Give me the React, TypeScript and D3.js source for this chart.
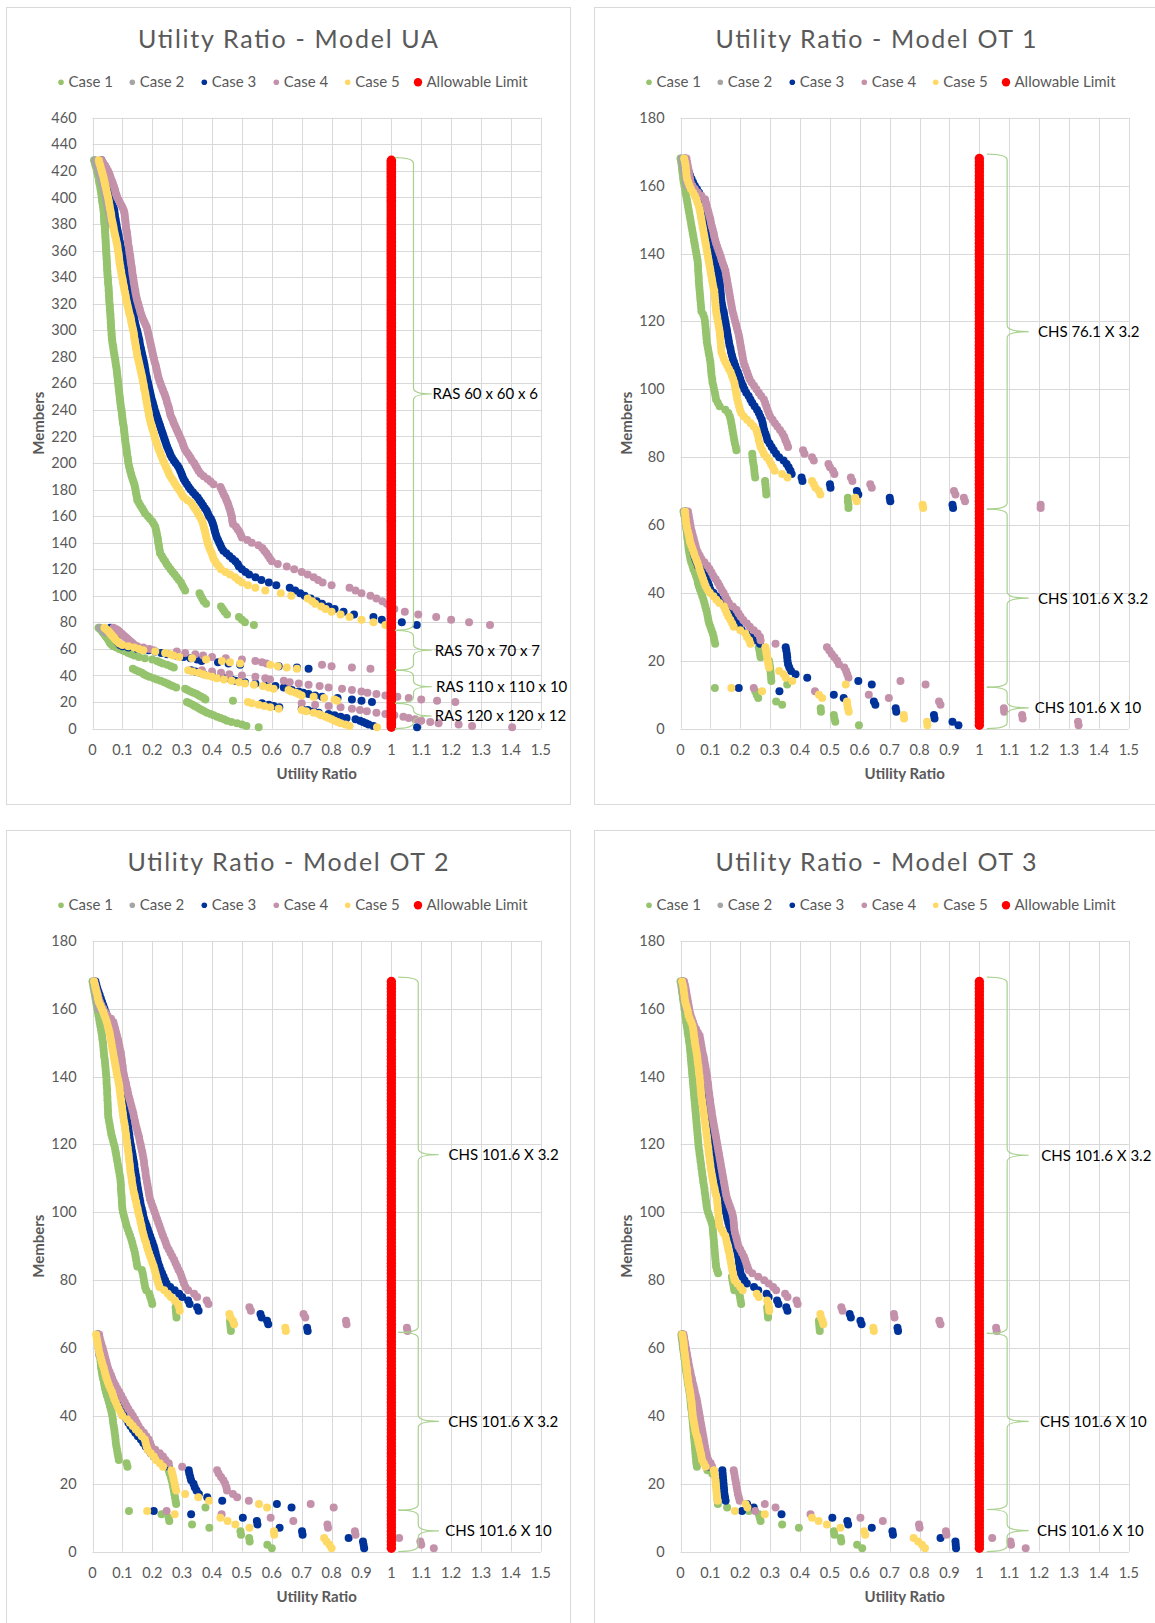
import React from 'react';
import * as d3 from 'd3';

// ---------------- categories / ticks ----------------
const CASE_NAMES = ['Case 1', 'Case 2', 'Case 3', 'Case 4', 'Case 5'];
const LIMIT_NAME = 'Allowable Limit';
const LIMIT_RATIO = 1;
const X_TICKS = [0, 0.1, 0.2, 0.3, 0.4, 0.5, 0.6, 0.7, 0.8, 0.9, 1, 1.1, 1.2, 1.3, 1.4, 1.5];
const Y_TICKS_UA = [0, 20, 40, 60, 80, 100, 120, 140, 160, 180, 200, 220, 240, 260, 280, 300, 320, 340, 360, 380, 400, 420, 440, 460];
const Y_TICKS_OT = [0, 20, 40, 60, 80, 100, 120, 140, 160, 180];
const TITLES = ['Utility Ratio - Model UA', 'Utility Ratio - Model OT 1', 'Utility Ratio - Model OT 2', 'Utility Ratio - Model OT 3'];
const X_TITLE = 'Utility Ratio';
const Y_TITLE = 'Members';
const UA_MEMBERS = 428;
const OT_MEMBERS = 168;

// ---------------- Model UA (members 428..78 every 2nd member, then 76..1) ----------------
const UA_CASE1_TOP = [
.005,.008,.010,.013,.015,.017,.019,.021,.022,.024,
.026,.027,.029,.030,.031,.032,.033,.035,.036,.037,
.038,.038,.039,.039,.040,.041,.042,.042,.043,.043,
.044,.044,.045,.045,.046,.046,.047,.047,.048,.048,
.049,.049,.050,.050,.051,.052,.052,.053,.054,.054,
.055,.055,.056,.056,.057,.058,.058,.059,.060,.060,
.061,.061,.062,.062,.063,.064,.064,.065,.066,.067,
.069,.070,.071,.073,.074,.076,.077,.078,.080,.081,
.082,.083,.084,.085,.086,.087,.088,.089,.090,.091,
.092,.093,.094,.095,.097,.098,.099,.100,.101,.102,
.104,.105,.106,.107,.108,.109,.110,.111,.113,.114,
.115,.116,.118,.119,.120,.122,.124,.126,.129,.131,
.134,.137,.140,.142,.144,.145,.147,.149,.150,.155,
.160,.166,.171,.176,.185,.192,.200,.205,.210,.212,
.214,.216,.218,.219,.220,.222,.223,.225,.226,.232,
.237,.243,.248,.254,.261,.268,.275,.282,.289,.296,
.300,.305,.310,.358,.362,.367,.372,.380,.430,.436,
.442,.450,.490,.500,.510,.540];
const UA_CASE1_LOW = [
.020,.025,.030,.033,.036,.040,.043,.046,.050,.053,
.055,.058,.060,.065,.070,.080,.090,.100,.110,.120,
.130,.140,.155,.175,.200,.216,.225,.235,.250,.262,
.272,.135,.145,.155,.165,.172,.180,.190,.205,.215,
.228,.240,.250,.258,.268,.280,.310,.318,.328,.338,
.348,.356,.364,.372,.378,.470,.316,.325,.335,.342,
.350,.358,.366,.374,.383,.395,.405,.417,.428,.440,
.450,.465,.484,.500,.515,.556];
const UA_CASE2_TOP = [
.008,.011,.014,.017,.020,.023,.026,.028,.031,.033,
.036,.038,.040,.042,.044,.046,.048,.050,.052,.054,
.056,.058,.059,.061,.063];
const UA_CASE2_LOW = [.025,.030,.035,.040,.045];
const UA_CASE3_TOP = [
.030,.032,.034,.036,.038,.040,.042,.044,.046,.048,
.050,.051,.052,.053,.055,.059,.063,.067,.071,.073,
.074,.075,.077,.078,.080,.081,.083,.085,.087,.088,
.090,.092,.094,.096,.099,.100,.102,.103,.104,.106,
.107,.108,.110,.111,.113,.115,.116,.118,.120,.121,
.123,.124,.126,.128,.130,.132,.133,.135,.137,.139,
.140,.142,.144,.146,.149,.151,.153,.155,.157,.158,
.160,.162,.164,.166,.168,.170,.172,.174,.175,.177,
.178,.180,.182,.184,.186,.188,.190,.192,.194,.196,
.198,.201,.203,.206,.208,.211,.214,.217,.220,.223,
.226,.229,.232,.235,.238,.241,.244,.247,.250,.254,
.258,.261,.266,.272,.278,.285,.290,.294,.298,.301,
.305,.310,.316,.322,.328,.336,.344,.352,.358,.364,
.370,.376,.382,.386,.390,.396,.400,.403,.406,.408,
.410,.413,.416,.420,.424,.428,.432,.438,.448,.458,
.468,.478,.486,.490,.500,.512,.524,.545,.565,.590,
.615,.660,.678,.695,.710,.730,.750,.768,.790,.810,
.840,.875,.940,.968,1.035,1.085];
const UA_CASE3_LOW = [
.060,.063,.066,.068,.070,.072,.074,.076,.078,.080,
.082,.085,.088,.092,.100,.120,.150,.188,.210,.230,
.250,.280,.305,.328,.350,.365,.420,.455,.494,.623,
.684,.723,.330,.344,.360,.372,.400,.430,.444,.465,
.478,.510,.545,.580,.612,.640,.655,.667,.690,.705,
.723,.745,.768,.820,.868,.900,.935,.567,.590,.606,
.625,.700,.720,.740,.757,.790,.810,.830,.850,.880,
.895,.905,.915,.924,.940,1.086];
const UA_CASE4_TOP = [
.030,.036,.042,.047,.052,.056,.059,.062,.066,.069,
.072,.075,.077,.080,.083,.088,.092,.097,.101,.105,
.107,.108,.109,.110,.111,.112,.113,.115,.116,.117,
.118,.119,.120,.122,.123,.124,.126,.127,.128,.129,
.131,.132,.133,.134,.136,.137,.138,.140,.141,.143,
.144,.146,.148,.150,.153,.155,.158,.160,.163,.166,
.170,.174,.178,.182,.184,.186,.188,.190,.192,.194,
.196,.198,.200,.202,.204,.206,.208,.211,.213,.215,
.217,.219,.221,.224,.227,.230,.234,.237,.241,.244,
.247,.249,.252,.255,.257,.259,.261,.265,.269,.272,
.276,.280,.284,.288,.292,.296,.300,.303,.306,.310,
.316,.322,.328,.333,.340,.345,.350,.355,.362,.372,
.385,.395,.405,.428,.432,.436,.440,.445,.448,.452,
.455,.458,.461,.463,.466,.467,.468,.470,.480,.486,
.492,.496,.500,.518,.533,.555,.568,.575,.582,.588,
.594,.600,.620,.650,.675,.700,.720,.740,.755,.770,
.800,.860,.880,.900,.930,.950,.970,.985,.995,1.010,
1.045,1.090,1.150,1.200,1.260,1.330];
const UA_CASE4_LOW = [
.070,.078,.085,.090,.095,.100,.105,.110,.115,.120,
.125,.130,.135,.140,.150,.170,.190,.204,.282,.310,
.344,.370,.400,.446,.500,.545,.567,.582,.768,.800,
.868,.930,.366,.400,.430,.458,.500,.545,.578,.594,
.640,.660,.690,.723,.760,.790,.835,.868,.900,.920,
.950,.980,1.020,1.058,1.100,1.153,1.214,.700,.745,.790,
.830,.868,.895,.918,.950,.980,1.010,1.040,1.058,1.080,
1.100,1.130,1.158,1.225,1.270,1.404];
const UA_CASE5_TOP = [
.021,.023,.026,.028,.031,.033,.036,.038,.040,.042,
.044,.046,.048,.050,.052,.054,.055,.057,.058,.060,
.062,.063,.064,.066,.068,.070,.071,.073,.075,.077,
.079,.081,.083,.084,.085,.087,.088,.089,.090,.091,
.093,.094,.096,.097,.099,.101,.102,.104,.106,.107,
.109,.111,.112,.114,.116,.118,.120,.122,.124,.127,
.129,.130,.132,.134,.136,.138,.139,.140,.142,.143,
.145,.146,.148,.149,.151,.153,.155,.157,.159,.161,
.163,.165,.167,.168,.170,.172,.173,.175,.177,.178,
.180,.181,.183,.184,.186,.188,.189,.191,.193,.195,
.198,.200,.203,.206,.208,.210,.213,.216,.219,.222,
.226,.229,.233,.236,.240,.244,.248,.252,.256,.260,
.266,.272,.277,.283,.289,.295,.300,.306,.318,.330,
.336,.342,.348,.353,.358,.363,.367,.370,.372,.375,
.377,.379,.381,.383,.385,.388,.391,.395,.399,.402,
.405,.410,.416,.423,.430,.445,.460,.477,.488,.500,
.520,.545,.578,.630,.665,.720,.735,.745,.765,.780,
.800,.830,.860,.900,.940,.980];
const UA_CASE5_LOW = [
.040,.045,.050,.055,.058,.062,.066,.070,.074,.078,
.082,.086,.090,.100,.120,.140,.155,.170,.210,.243,
.260,.270,.290,.333,.380,.433,.460,.494,.595,.620,
.650,.684,.320,.335,.355,.370,.383,.400,.416,.440,
.466,.490,.510,.540,.570,.590,.606,.656,.665,.680,
.690,.700,.740,.775,.810,.818,.520,.533,.556,.575,
.595,.623,.700,.715,.740,.757,.765,.780,.790,.800,
.810,.820,.830,.846,.860,.952];

// ---------------- Model OT 1 (members 168..65, 64..13, 12..1) ----------------
const OT1_CASE1_TOP = [
.000,.002,.004,.005,.006,.008,.009,.011,.013,.015,
.017,.019,.021,.023,.025,.027,.029,.031,.033,.035,
.037,.039,.041,.043,.045,.047,.049,.051,.053,.055,
.057,.058,.059,.059,.060,.061,.061,.062,.063,.064,
.065,.066,.067,.068,.069,.070,.076,.080,.082,.083,
.084,.085,.086,.087,.088,.090,.092,.094,.096,.098,
.100,.101,.102,.103,.104,.106,.107,.110,.112,.115,
.117,.119,.125,.131,.150,.160,.165,.168,.170,.172,
.174,.176,.178,.180,.182,.185,.187,.240,.241,.242,
.244,.246,.247,.248,.250,.283,.284,.285,.286,.287,
.560,.560,.562,.562];
const OT1_CASE1_MID = [
.010,.012,.015,.016,.018,.019,.021,.022,.023,.025,
.026,.027,.029,.031,.033,.036,.040,.043,.048,.052,
.056,.058,.061,.065,.069,.073,.077,.080,.083,.086,
.089,.091,.093,.096,.100,.104,.108,.111,.113,.116,
.262,.264,.266,.268,.296,.298,.300,.301,.302,.303,
.304,.357];
const OT1_CASE1_BOT = [.115,.250,.255,.260,.320,.340,.469,.470,.513,.515,.518,.597];
const OT1_CASE2_TOP = [.004,.006,.008,.010,.012,.014,.016,.018,.020];
const OT1_CASE2_MID = [.012,.014,.016,.018,.020,.022,.024];
const OT1_CASE3_TOP = [
.015,.018,.020,.024,.028,.032,.037,.042,.048,.055,
.062,.067,.071,.074,.077,.080,.083,.086,.089,.092,
.095,.098,.101,.104,.107,.109,.111,.113,.115,.117,
.119,.121,.123,.125,.127,.129,.131,.132,.133,.134,
.135,.136,.137,.139,.141,.144,.146,.148,.150,.152,
.154,.156,.158,.160,.162,.164,.167,.169,.172,.175,
.179,.183,.187,.192,.196,.200,.204,.209,.214,.220,
.228,.234,.240,.248,.256,.262,.267,.272,.275,.277,
.280,.284,.288,.291,.298,.305,.312,.320,.330,.345,
.355,.362,.368,.372,.405,.408,.500,.502,.590,.595,
.700,.702,.910,.912];
const OT1_CASE3_MID = [
.018,.019,.021,.023,.025,.027,.029,.031,.033,.036,
.039,.041,.044,.046,.050,.054,.058,.076,.080,.084,
.088,.092,.096,.100,.110,.120,.131,.142,.152,.160,
.166,.172,.180,.188,.196,.205,.220,.235,.250,.266,
.352,.354,.356,.357,.358,.360,.364,.370,.385,.424,
.595,.640];
const OT1_CASE3_BOT = [.195,.331,.513,.546,.647,.652,.720,.722,.848,.850,.910,.930];
const OT1_CASE4_TOP = [
.020,.022,.024,.026,.028,.030,.032,.034,.040,.048,
.058,.070,.082,.085,.088,.091,.094,.097,.100,.102,
.105,.108,.111,.113,.116,.119,.123,.127,.131,.135,
.138,.142,.146,.150,.152,.154,.156,.158,.160,.162,
.164,.166,.168,.170,.172,.174,.177,.180,.183,.186,
.189,.192,.195,.197,.199,.201,.203,.205,.207,.209,
.211,.215,.219,.223,.227,.231,.238,.246,.254,.262,
.270,.279,.283,.287,.291,.295,.300,.308,.316,.324,
.333,.341,.347,.351,.356,.360,.410,.415,.440,.446,
.495,.500,.510,.515,.570,.575,.635,.640,.915,.920,
.948,.952,1.205,1.205];
const OT1_CASE4_MID = [
.025,.027,.029,.031,.033,.035,.038,.041,.044,.047,
.050,.053,.058,.064,.070,.080,.090,.097,.104,.110,
.118,.125,.131,.137,.144,.150,.156,.162,.175,.187,
.194,.201,.210,.222,.232,.245,.258,.266,.268,.318,
.490,.498,.506,.515,.524,.530,.548,.554,.558,.562,
.736,.820];
const OT1_CASE4_BOT = [.245,.450,.630,.697,.865,.870,1.082,1.083,1.143,1.145,1.330,1.332];
const OT1_CASE5_TOP = [
.012,.015,.017,.018,.019,.020,.022,.026,.030,.035,
.042,.048,.053,.057,.061,.064,.066,.068,.070,.072,
.074,.076,.078,.080,.082,.084,.086,.088,.090,.092,
.094,.096,.098,.100,.102,.104,.106,.108,.110,.113,
.114,.115,.116,.117,.118,.119,.121,.123,.125,.127,
.129,.131,.132,.133,.134,.135,.136,.137,.141,.145,
.150,.156,.162,.168,.172,.176,.180,.182,.184,.186,
.188,.190,.193,.196,.199,.203,.212,.223,.235,.245,
.254,.257,.260,.262,.265,.268,.274,.279,.288,.297,
.303,.309,.315,.340,.358,.440,.446,.452,.463,.468,
.585,.590,.810,.812];
const OT1_CASE5_MID = [
.015,.016,.017,.018,.020,.022,.025,.028,.030,.032,
.036,.040,.044,.047,.052,.056,.060,.064,.068,.072,
.076,.080,.084,.090,.098,.110,.120,.130,.145,.150,
.155,.160,.167,.173,.178,.200,.217,.222,.230,.234,
.284,.286,.288,.290,.292,.294,.296,.330,.345,.352,
.374,.553];
const OT1_CASE5_BOT = [.170,.273,.463,.474,.557,.558,.560,.563,.747,.748,.825,.826];

// ---------------- Model OT 2 ----------------
const OT2_CASE1_TOP = [
.000,.002,.004,.006,.008,.010,.012,.014,.016,.018,
.020,.022,.024,.026,.028,.030,.032,.033,.035,.036,
.037,.038,.039,.041,.042,.043,.044,.045,.046,.047,
.047,.048,.049,.049,.050,.050,.051,.051,.052,.052,
.053,.055,.057,.059,.061,.063,.066,.069,.072,.075,
.077,.079,.081,.083,.085,.087,.089,.091,.093,.094,
.095,.095,.096,.097,.098,.098,.099,.100,.102,.105,
.108,.111,.114,.118,.122,.126,.130,.133,.136,.139,
.142,.144,.146,.148,.150,.165,.168,.170,.172,.174,
.176,.180,.190,.193,.197,.200,.278,.279,.280,.281,
.460,.461,.462,.463];
const OT2_CASE1_MID = [
.018,.020,.021,.022,.023,.024,.025,.026,.027,.028,
.029,.031,.033,.035,.038,.040,.042,.045,.048,.052,
.055,.058,.061,.064,.066,.068,.069,.071,.073,.074,
.076,.077,.078,.080,.082,.084,.086,.088,.114,.117,
.255,.258,.262,.265,.268,.270,.272,.274,.276,.278,
.280,.378];
const OT2_CASE1_BOT = [.122,.231,.255,.257,.333,.391,.495,.497,.524,.526,.585,.600];
const OT2_CASE2_TOP = [.003,.005,.007,.009,.011,.013,.015,.017,.019];
const OT2_CASE2_MID = [.014,.016,.018,.019,.020,.021,.022];
const OT2_CASE3_TOP = [
.010,.013,.016,.020,.024,.028,.032,.036,.040,.044,
.048,.052,.056,.059,.062,.064,.066,.068,.070,.072,
.074,.076,.078,.080,.082,.084,.086,.088,.090,.092,
.094,.096,.098,.100,.102,.104,.106,.108,.111,.113,
.115,.117,.118,.120,.121,.123,.124,.126,.128,.130,
.132,.134,.136,.138,.140,.141,.143,.145,.147,.148,
.150,.152,.154,.156,.158,.160,.162,.165,.168,.170,
.173,.177,.181,.185,.189,.193,.197,.201,.205,.208,
.211,.214,.217,.220,.224,.228,.233,.238,.243,.248,
.260,.275,.290,.300,.320,.325,.350,.355,.562,.566,
.584,.588,.718,.720];
const OT2_CASE3_MID = [
.018,.020,.023,.026,.029,.032,.035,.038,.041,.044,
.047,.051,.055,.060,.065,.070,.075,.080,.085,.090,
.094,.098,.101,.104,.108,.114,.120,.127,.135,.143,
.152,.162,.170,.178,.186,.195,.205,.220,.235,.255,
.322,.324,.327,.330,.338,.342,.348,.356,.384,.434,
.617,.666];
const OT2_CASE3_BOT = [.205,.330,.503,.550,.552,.626,.701,.703,.857,.905,.907,.909];
const OT2_CASE4_TOP = [
.006,.009,.012,.015,.018,.021,.025,.030,.036,.042,
.050,.062,.070,.073,.076,.079,.082,.085,.087,.090,
.092,.095,.096,.098,.099,.101,.102,.104,.106,.109,
.112,.114,.117,.119,.122,.125,.128,.131,.134,.137,
.139,.142,.144,.147,.150,.153,.156,.158,.161,.163,
.166,.168,.170,.172,.173,.175,.177,.178,.180,.182,
.184,.186,.188,.190,.192,.196,.200,.204,.208,.212,
.216,.220,.224,.228,.232,.236,.241,.245,.249,.255,
.261,.267,.273,.278,.283,.288,.294,.298,.302,.306,
.311,.320,.340,.350,.382,.388,.525,.530,.706,.712,
.848,.850,1.052,1.054];
const OT2_CASE4_MID = [
.022,.024,.027,.030,.034,.037,.040,.043,.046,.049,
.052,.057,.062,.066,.071,.077,.083,.090,.096,.102,
.108,.114,.120,.128,.135,.142,.148,.154,.162,.172,
.180,.188,.193,.197,.210,.225,.236,.244,.255,.300,
.417,.422,.430,.438,.444,.448,.450,.470,.484,.523,
.730,.807];
const OT2_CASE4_BOT = [.248,.432,.596,.672,.786,.788,.878,.880,1.026,1.097,1.100,1.142];
const OT2_CASE5_TOP = [
.005,.008,.010,.013,.016,.018,.021,.026,.031,.036,
.040,.044,.048,.051,.054,.057,.059,.061,.063,.065,
.067,.069,.071,.073,.075,.077,.079,.081,.083,.086,
.088,.090,.091,.093,.094,.096,.097,.099,.100,.102,
.103,.105,.107,.109,.110,.112,.113,.115,.116,.118,
.119,.121,.122,.123,.125,.126,.127,.129,.131,.132,
.134,.136,.138,.141,.143,.146,.148,.151,.153,.156,
.159,.161,.164,.166,.169,.172,.175,.179,.182,.185,
.189,.193,.197,.201,.205,.208,.211,.214,.217,.220,
.224,.240,.252,.262,.275,.286,.290,.292,.458,.462,
.470,.474,.645,.647];
const OT2_CASE5_MID = [
.012,.014,.016,.018,.020,.022,.025,.028,.031,.034,
.038,.041,.044,.047,.051,.055,.060,.065,.069,.073,
.078,.083,.088,.094,.100,.115,.125,.135,.145,.155,
.165,.175,.178,.181,.185,.195,.205,.212,.225,.236,
.264,.267,.270,.272,.275,.277,.280,.310,.354,.390,
.557,.584];
const OT2_CASE5_BOT = [.183,.275,.428,.452,.478,.525,.607,.608,.775,.783,.793,.800];

// ---------------- Model OT 3 ----------------
const OT3_CASE1_TOP = [
.000,.002,.004,.005,.007,.008,.010,.012,.013,.015,
.016,.018,.019,.021,.023,.024,.026,.028,.029,.031,
.032,.033,.034,.035,.036,.037,.038,.039,.040,.041,
.042,.043,.044,.045,.046,.047,.048,.049,.050,.051,
.052,.053,.054,.055,.056,.057,.058,.059,.060,.061,
.063,.064,.066,.067,.069,.070,.072,.073,.075,.076,
.078,.080,.081,.083,.084,.086,.087,.089,.092,.096,
.100,.104,.107,.108,.109,.110,.111,.112,.113,.114,
.115,.116,.117,.118,.119,.122,.126,.172,.174,.176,
.178,.180,.197,.199,.201,.203,.290,.291,.292,.293,
.463,.464,.465,.466];
const OT3_CASE1_MID = [
.003,.004,.006,.007,.008,.010,.012,.013,.015,.016,
.018,.019,.021,.023,.024,.026,.028,.030,.032,.033,
.034,.035,.036,.038,.039,.040,.041,.042,.043,.044,
.045,.046,.047,.048,.049,.050,.051,.052,.053,.055,
.090,.106,.118,.119,.120,.121,.122,.122,.123,.124,
.125,.156];
const OT3_CASE1_BOT = [.229,.262,.265,.268,.340,.396,.513,.515,.536,.538,.591,.608];
const OT3_CASE2_TOP = [.003,.005,.006,.008,.010,.011,.013,.015,.016];
const OT3_CASE2_MID = [.005,.006,.008,.009,.010,.012,.014];
const OT3_CASE3_TOP = [
.008,.010,.012,.014,.016,.018,.020,.023,.026,.029,
.032,.035,.038,.041,.044,.046,.048,.050,.052,.054,
.056,.058,.060,.062,.064,.066,.068,.070,.072,.074,
.076,.078,.080,.082,.084,.086,.087,.089,.091,.093,
.095,.097,.099,.101,.103,.105,.107,.109,.111,.113,
.115,.117,.119,.121,.123,.126,.128,.130,.132,.134,
.136,.138,.140,.142,.144,.146,.148,.150,.152,.155,
.157,.160,.163,.167,.171,.175,.179,.183,.186,.188,
.191,.193,.195,.196,.198,.199,.201,.207,.214,.222,
.246,.260,.288,.295,.323,.328,.354,.358,.566,.570,
.602,.606,.726,.728];
const OT3_CASE3_MID = [
.008,.010,.012,.014,.016,.018,.020,.022,.024,.026,
.028,.030,.032,.034,.036,.038,.040,.042,.044,.046,
.048,.050,.052,.054,.056,.058,.060,.062,.064,.066,
.068,.070,.072,.074,.076,.078,.080,.083,.086,.090,
.140,.141,.142,.143,.144,.145,.146,.147,.149,.151,
.223,.245];
const OT3_CASE3_BOT = [.206,.338,.508,.558,.561,.640,.709,.711,.870,.920,.921,.922];
const OT3_CASE4_TOP = [
.012,.015,.017,.019,.021,.023,.025,.027,.029,.031,
.034,.038,.042,.046,.052,.058,.064,.066,.068,.070,
.072,.074,.077,.079,.081,.083,.085,.087,.089,.090,
.092,.093,.094,.096,.097,.099,.100,.102,.104,.105,
.107,.109,.111,.113,.115,.117,.119,.121,.123,.125,
.127,.129,.131,.133,.135,.137,.139,.141,.143,.145,
.147,.149,.151,.153,.156,.160,.164,.168,.172,.175,
.177,.178,.179,.180,.182,.185,.188,.191,.194,.200,
.206,.212,.216,.220,.224,.228,.240,.260,.280,.295,
.310,.320,.350,.358,.388,.392,.538,.542,.714,.716,
.866,.870,1.056,1.058];
const OT3_CASE4_MID = [
.010,.012,.014,.016,.018,.020,.022,.024,.026,.028,
.030,.033,.035,.038,.040,.043,.046,.048,.051,.054,
.056,.058,.060,.062,.064,.066,.068,.070,.072,.074,
.076,.078,.080,.082,.084,.086,.089,.093,.101,.106,
.178,.180,.182,.184,.186,.188,.190,.192,.195,.198,
.282,.318];
const OT3_CASE4_BOT = [.250,.435,.602,.677,.798,.800,.888,.890,1.043,1.104,1.106,1.155];
const OT3_CASE5_TOP = [
.005,.008,.010,.011,.013,.014,.016,.019,.022,.025,
.027,.031,.036,.040,.042,.044,.045,.047,.048,.050,
.052,.054,.056,.057,.058,.060,.061,.062,.064,.065,
.066,.067,.068,.069,.070,.072,.073,.075,.077,.078,
.080,.081,.083,.084,.086,.087,.089,.090,.091,.093,
.094,.095,.097,.098,.100,.101,.103,.105,.107,.109,
.111,.114,.116,.119,.122,.123,.124,.125,.126,.127,
.128,.129,.130,.137,.143,.150,.153,.155,.158,.160,
.163,.165,.167,.169,.171,.173,.176,.178,.181,.190,
.200,.208,.255,.262,.290,.294,.296,.297,.468,.470,
.475,.478,.645,.647];
const OT3_CASE5_MID = [
.006,.008,.010,.011,.012,.013,.015,.016,.018,.019,
.021,.022,.023,.025,.026,.028,.030,.032,.034,.035,
.037,.038,.039,.040,.041,.043,.045,.047,.049,.051,
.055,.058,.060,.063,.065,.068,.070,.072,.078,.084,
.112,.114,.116,.117,.118,.119,.120,.121,.122,.124,
.218,.224];
const OT3_CASE5_BOT = [.182,.282,.440,.462,.490,.535,.614,.618,.780,.795,.808,.818];

// ---------------- brace annotations (member ranges) ----------------
const UA_BRACES = [
  { from: 430, to: 74, label: 'RAS 60 x 60 x 6' },
  { from: 74, to: 44, label: 'RAS 70 x 70 x 7' },
  { from: 44, to: 19, label: 'RAS 110 x 110 x 10' },
  { from: 19, to: 0, label: 'RAS 120 x 120 x 12' },
];
const OT1_BRACES = [
  { from: 169.3, to: 64.7, label: 'CHS 76.1 X 3.2' },
  { from: 64.7, to: 12.2, label: 'CHS 101.6 X 3.2' },
  { from: 12.2, to: 0, label: 'CHS 101.6 X 10' },
];
const OT2_BRACES = [
  { from: 169.3, to: 64.6, label: 'CHS 101.6 X 3.2' },
  { from: 64.6, to: 12.2, label: 'CHS 101.6 X 3.2' },
  { from: 12.2, to: 0, label: 'CHS 101.6 X 10' },
];
const OT3_BRACES = [
  { from: 169.3, to: 64.3, label: 'CHS 101.6 X 3.2' },
  { from: 64.3, to: 12.4, label: 'CHS 101.6 X 10' },
  { from: 12.4, to: 0, label: 'CHS 101.6 X 10' },
];

// ---------------- styles / layout ----------------
const FONT = "Lato, 'Open Sans', 'DejaVu Sans', sans-serif";
const TEXT_GRAY = '#595959';
const GRID = '#D9D9D9';
const BORDER = '#D9D9D9';
const BRACE_COLOR = '#A9D18E';
const CASE_COLORS = ['#96C46E', '#A5A5A5', '#003399', '#C491AB', '#FFD966'];
const LIMIT_COLOR = '#FF0000';
const PANEL_W = 564;
const PANEL_H = 797;
const PL = 86.5, PR = 534.8, PT = 110.8, PB = 721.6;
const LEGEND_X = [55, 126.3, 198.3, 270.3, 341.7, 412];
const LEGEND_Y = 75.3;
const DOT_R = 4.0;
const LIMIT_R = 4.7;

type Pt = [number, number];
const seq = (start: number, step: number, vals: number[]): Pt[] => vals.map((r, i) => [start - i * step, r] as Pt);

const PANELS = [
  {
    key: 'UA', ox: 6, oy: 7, title: TITLES[0], titleLen: 300, yMax: 460, yTicks: Y_TICKS_UA, limitCount: UA_MEMBERS,
    cases: [
      [...seq(428, 2, UA_CASE1_TOP), ...seq(76, 1, UA_CASE1_LOW)],
      [...seq(428, 2, UA_CASE2_TOP), ...seq(76, 1, UA_CASE2_LOW)],
      [...seq(428, 2, UA_CASE3_TOP), ...seq(76, 1, UA_CASE3_LOW)],
      [...seq(428, 2, UA_CASE4_TOP), ...seq(76, 1, UA_CASE4_LOW)],
      [...seq(428, 2, UA_CASE5_TOP), ...seq(76, 1, UA_CASE5_LOW)],
    ],
    braces: UA_BRACES, braceX: [1.012, 1.074, 1.135], labelX: [1.138, 1.145, 1.149, 1.145],
  },
  {
    key: 'OT1', ox: 594, oy: 7, title: TITLES[1], titleLen: 321, yMax: 180, yTicks: Y_TICKS_OT, limitCount: OT_MEMBERS,
    cases: [
      [...seq(168, 1, OT1_CASE1_TOP), ...seq(64, 1, OT1_CASE1_MID), ...seq(12, 1, OT1_CASE1_BOT)],
      [...seq(168, 1, OT1_CASE2_TOP), ...seq(64, 1, OT1_CASE2_MID)],
      [...seq(168, 1, OT1_CASE3_TOP), ...seq(64, 1, OT1_CASE3_MID), ...seq(12, 1, OT1_CASE3_BOT)],
      [...seq(168, 1, OT1_CASE4_TOP), ...seq(64, 1, OT1_CASE4_MID), ...seq(12, 1, OT1_CASE4_BOT)],
      [...seq(168, 1, OT1_CASE5_TOP), ...seq(64, 1, OT1_CASE5_MID), ...seq(12, 1, OT1_CASE5_BOT)],
    ],
    braces: OT1_BRACES, braceX: [1.025, 1.093, 1.165], labelX: [1.196, 1.196, 1.185],
  },
  {
    key: 'OT2', ox: 6, oy: 830, title: TITLES[2], titleLen: 321, yMax: 180, yTicks: Y_TICKS_OT, limitCount: OT_MEMBERS,
    cases: [
      [...seq(168, 1, OT2_CASE1_TOP), ...seq(64, 1, OT2_CASE1_MID), ...seq(12, 1, OT2_CASE1_BOT)],
      [...seq(168, 1, OT2_CASE2_TOP), ...seq(64, 1, OT2_CASE2_MID)],
      [...seq(168, 1, OT2_CASE3_TOP), ...seq(64, 1, OT2_CASE3_MID), ...seq(12, 1, OT2_CASE3_BOT)],
      [...seq(168, 1, OT2_CASE4_TOP), ...seq(64, 1, OT2_CASE4_MID), ...seq(12, 1, OT2_CASE4_BOT)],
      [...seq(168, 1, OT2_CASE5_TOP), ...seq(64, 1, OT2_CASE5_MID), ...seq(12, 1, OT2_CASE5_BOT)],
    ],
    braces: OT2_BRACES, braceX: [1.023, 1.09, 1.159], labelX: [1.191, 1.19, 1.18],
  },
  {
    key: 'OT3', ox: 594, oy: 830, title: TITLES[3], titleLen: 321, yMax: 180, yTicks: Y_TICKS_OT, limitCount: OT_MEMBERS,
    cases: [
      [...seq(168, 1, OT3_CASE1_TOP), ...seq(64, 1, OT3_CASE1_MID), ...seq(12, 1, OT3_CASE1_BOT)],
      [...seq(168, 1, OT3_CASE2_TOP), ...seq(64, 1, OT3_CASE2_MID)],
      [...seq(168, 1, OT3_CASE3_TOP), ...seq(64, 1, OT3_CASE3_MID), ...seq(12, 1, OT3_CASE3_BOT)],
      [...seq(168, 1, OT3_CASE4_TOP), ...seq(64, 1, OT3_CASE4_MID), ...seq(12, 1, OT3_CASE4_BOT)],
      [...seq(168, 1, OT3_CASE5_TOP), ...seq(64, 1, OT3_CASE5_MID), ...seq(12, 1, OT3_CASE5_BOT)],
    ],
    braces: OT3_BRACES, braceX: [1.025, 1.093, 1.165], labelX: [1.207, 1.203, 1.193],
  },
];

function bracePath(x0: number, x1: number, x2: number, yTop: number, yBot: number) {
  const ym = (yTop + yBot) / 2;
  const rr = Math.min(6, (yBot - yTop) / 4);
  return `M${x0},${yTop} Q${x1},${yTop} ${x1},${yTop + rr} L${x1},${ym - rr} Q${x1},${ym} ${x2},${ym} Q${x1},${ym} ${x1},${ym + rr} L${x1},${yBot - rr} Q${x1},${yBot} ${x0},${yBot}`;
}

function Panel(p: any) {
  const x = d3.scaleLinear().domain([0, 1.5]).range([PL, PR]);
  const y = d3.scaleLinear().domain([0, p.yMax]).range([PB, PT]);
  const fmt = d3.format('.1~f');
  const crisp = (v: number) => Math.round(v) + 0.5;
  const limitMembers = d3.range(1, p.limitCount + 1);
  const legendNames = [...CASE_NAMES, LIMIT_NAME];
  const legendColors = [...CASE_COLORS, LIMIT_COLOR];
  return (
    <g transform={`translate(${p.ox},${p.oy})`}>
      <rect x={0.5} y={0.5} width={PANEL_W} height={PANEL_H} fill="#fff" stroke={BORDER} strokeWidth={1} />
      <text x={PANEL_W / 2} y={40.5} textAnchor="middle" fontSize={25} fill={TEXT_GRAY}
        textLength={p.titleLen} lengthAdjust="spacing">{p.title}</text>
      {legendNames.map((name, i) => (
        <g key={name}>
          <circle cx={LEGEND_X[i]} cy={LEGEND_Y} r={i === 5 ? 4.2 : 2.8} fill={legendColors[i]} />
          <text x={LEGEND_X[i] + (i === 5 ? 8.5 : 7.5)} y={LEGEND_Y + 5} fontSize={15} fill={TEXT_GRAY}>{name}</text>
        </g>
      ))}
      {p.yTicks.map((t: number) => (
        <line key={'h' + t} x1={PL} x2={PR} y1={crisp(y(t))} y2={crisp(y(t))} stroke={GRID} strokeWidth={1} />
      ))}
      {X_TICKS.map((t) => (
        <line key={'v' + t} x1={crisp(x(t))} x2={crisp(x(t))} y1={PT} y2={PB} stroke={GRID} strokeWidth={1} />
      ))}
      {p.yTicks.map((t: number) => (
        <text key={'yl' + t} x={70.6} y={y(t)} dy="0.35em" textAnchor="end" fontSize={14.5} fill={TEXT_GRAY}>{t}</text>
      ))}
      {X_TICKS.map((t) => (
        <text key={'xl' + t} x={x(t)} y={748} textAnchor="middle" fontSize={14.5} fill={TEXT_GRAY}>{fmt(t)}</text>
      ))}
      <text x={(PL + PR) / 2} y={772} textAnchor="middle" fontSize={15} fontWeight="bold" fill={TEXT_GRAY}>{X_TITLE}</text>
      <text transform={`translate(37.5,${(PT + PB) / 2}) rotate(-90)`} textAnchor="middle" fontSize={15} fontWeight="bold" fill={TEXT_GRAY}>{Y_TITLE}</text>
      {p.cases.map((pts: Pt[], ci: number) => (
        <g key={'c' + ci} fill={CASE_COLORS[ci]}>
          {pts.map(([m, r], j) => <circle key={j} cx={x(r)} cy={y(m)} r={DOT_R} />)}
        </g>
      ))}
      <g fill={LIMIT_COLOR}>
        {limitMembers.map((m: number) => <circle key={m} cx={x(LIMIT_RATIO)} cy={y(m)} r={LIMIT_R} />)}
      </g>
      {p.braces.map((b: any, i: number) => (
        <g key={'b' + i}>
          <path d={bracePath(x(p.braceX[0]), x(p.braceX[1]), x(p.braceX[2]), y(b.from), y(b.to))}
            fill="none" stroke={BRACE_COLOR} strokeWidth={1.2} />
          <text x={x(p.labelX[i])} y={y((b.from + b.to) / 2)} dy="0.36em" fontSize={15} fill="#000">{b.label}</text>
        </g>
      ))}
    </g>
  );
}

export default function App() {
  return (
    <svg width={1155} height={1623} style={{ position: 'absolute', left: 0, top: 0, display: 'block' }} fontFamily={FONT}>
      <rect width={1155} height={1623} fill="#fff" />
      {PANELS.map((p) => <Panel key={p.key} {...p} />)}
    </svg>
  );
}
